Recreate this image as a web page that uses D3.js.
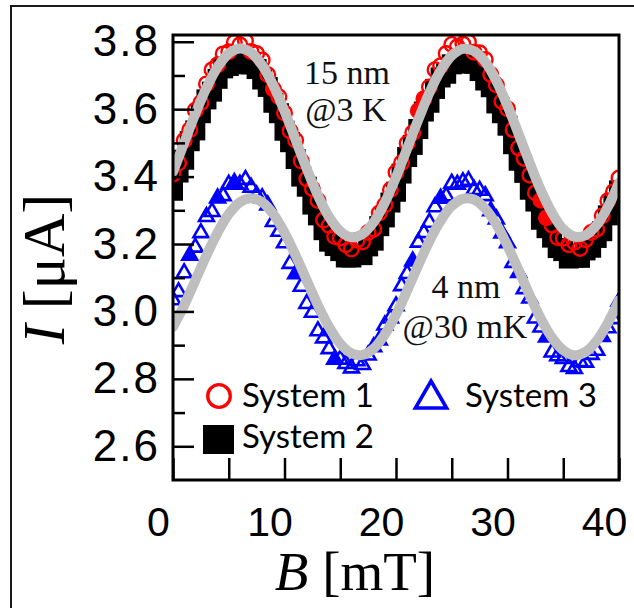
<!DOCTYPE html>
<html>
<head>
<meta charset="utf-8">
<script src="https://cdn.jsdelivr.net/npm/d3@7"></script>
<style>
  body { margin: 0; background: #fff; }
  svg { display: block; }
</style>
</head>
<body>
<svg id="chart" width="634" height="608"></svg>
<script>
// Magnetic field sweep (mT) shared by the three measured systems
const fieldB = [
  0, 0.5, 1, 1.5, 2, 2.5, 3, 3.5, 4, 4.5, 5, 5.5, 6, 6.5, 7, 7.5, 8, 8.5, 9, 9.5,
  10, 10.5, 11, 11.5, 12, 12.5, 13, 13.5, 14, 14.5, 15, 15.5, 16, 16.5, 17, 17.5, 18, 18.5, 19, 19.5,
  20, 20.5, 21, 21.5, 22, 22.5, 23, 23.5, 24, 24.5, 25, 25.5, 26, 26.5, 27, 27.5, 28, 28.5, 29, 29.5,
  30, 30.5, 31, 31.5, 32, 32.5, 33, 33.5, 34, 34.5, 35, 35.5, 36, 36.5, 37, 37.5, 38, 38.5, 39, 39.5,
  40
];

// System 1: 15 nm junction at 3 K (µA)
const system1 = [
  3.407, 3.440, 3.507, 3.539, 3.597, 3.619, 3.675, 3.717, 3.732, 3.764,
  3.770, 3.798, 3.791, 3.802, 3.771, 3.765, 3.746, 3.702, 3.660, 3.637,
  3.589, 3.535, 3.508, 3.446, 3.393, 3.364, 3.329, 3.271, 3.255, 3.222,
  3.218, 3.198, 3.185, 3.211, 3.206, 3.234, 3.244, 3.292, 3.316, 3.361,
  3.413, 3.441, 3.499, 3.530, 3.595, 3.631, 3.666, 3.717, 3.729, 3.765,
  3.792, 3.785, 3.793, 3.799, 3.769, 3.767, 3.747, 3.703, 3.672, 3.623,
  3.601, 3.539, 3.485, 3.454, 3.404, 3.352, 3.330, 3.278, 3.256, 3.219,
  3.217, 3.198, 3.205, 3.187, 3.213, 3.234, 3.244, 3.284, 3.328, 3.355,
  3.396
];
// Sweep points of System 1 drawn as solid circles
const system1Solid = [9, 22, 22.5, 33, 33.5];

// System 2: 15 nm junction at 3 K (µA)
const system2 = [
  3.358, 3.412, 3.450, 3.505, 3.537, 3.588, 3.629, 3.652, 3.690, 3.721,
  3.728, 3.736, 3.749, 3.733, 3.733, 3.719, 3.688, 3.666, 3.619, 3.588,
  3.536, 3.502, 3.452, 3.400, 3.370, 3.317, 3.285, 3.241, 3.207, 3.194,
  3.179, 3.160, 3.160, 3.170, 3.167, 3.193, 3.210, 3.253, 3.279, 3.323,
  3.355, 3.409, 3.458, 3.494, 3.541, 3.593, 3.619, 3.660, 3.694, 3.705,
  3.733, 3.738, 3.752, 3.735, 3.735, 3.713, 3.685, 3.665, 3.617, 3.588,
  3.551, 3.496, 3.447, 3.411, 3.361, 3.326, 3.272, 3.247, 3.219, 3.188,
  3.179, 3.157, 3.160, 3.159, 3.181, 3.189, 3.218, 3.238, 3.285, 3.319,
  3.359
];

// System 3: 4 nm junction at 30 mK (µA)
const system3 = [
  3.034, 3.058, 3.114, 3.166, 3.190, 3.233, 3.281, 3.296, 3.336, 3.343,
  3.377, 3.382, 3.377, 3.391, 3.368, 3.345, 3.337, 3.315, 3.266, 3.237,
  3.203, 3.142, 3.111, 3.074, 3.023, 2.997, 2.942, 2.921, 2.889, 2.858,
  2.858, 2.845, 2.832, 2.853, 2.842, 2.870, 2.895, 2.915, 2.959, 2.980,
  3.016, 3.076, 3.112, 3.149, 3.205, 3.233, 3.264, 3.310, 3.335, 3.342,
  3.380, 3.377, 3.384, 3.388, 3.361, 3.359, 3.343, 3.298, 3.274, 3.232,
  3.203, 3.145, 3.115, 3.067, 3.039, 2.980, 2.953, 2.924, 2.879, 2.868,
  2.860, 2.836, 2.830, 2.851, 2.849, 2.872, 2.884, 2.925, 2.951, 2.978,
  3.030
];
const system3Solid = [1.5, 4, 5.5, 8.5, 11, 14.5, 21.5, 24, 28.5, 31, 33.5, 38.5];

// Fitted oscillation curves, sampled every 1 mT
const fitB = [
  0, 1, 2, 3, 4, 5, 6, 7, 8, 9, 10, 11, 12, 13, 14, 15, 16, 17, 18, 19, 20,
  21, 22, 23, 24, 25, 26, 27, 28, 29, 30, 31, 32, 33, 34, 35, 36, 37, 38, 39, 40
];
const fit15nm = [
  3.414, 3.500, 3.586, 3.663, 3.725, 3.765, 3.780, 3.768, 3.730, 3.670,
  3.594, 3.509, 3.423, 3.344, 3.280, 3.238, 3.220, 3.230, 3.265, 3.323,
  3.398, 3.483, 3.569, 3.649, 3.714, 3.759, 3.779, 3.772, 3.740, 3.684,
  3.610, 3.526, 3.440, 3.359, 3.292, 3.244, 3.222, 3.226, 3.256, 3.310,
  3.382
];
const fit4nm = [
  2.954, 3.018, 3.092, 3.166, 3.234, 3.289, 3.324, 3.336, 3.324, 3.289,
  3.234, 3.166, 3.092, 3.018, 2.954, 2.904, 2.876, 2.871, 2.890, 2.932,
  2.991, 3.062, 3.137, 3.209, 3.269, 3.313, 3.334, 3.332, 3.305, 3.258,
  3.195, 3.122, 3.047, 2.978, 2.922, 2.885, 2.870, 2.880, 2.913, 2.966,
  3.033
];

// Axis ticks
const xTicks = [0, 5, 10, 15, 20, 25, 30, 35, 40];
const xTickLabels = [0, 10, 20, 30, 40];
const yMajor = [2.6, 2.8, 3.0, 3.2, 3.4, 3.6, 3.8];
const yMinor = [2.7, 2.9, 3.1, 3.3, 3.5, 3.7];

// Legend entries
const legendLabels = ["System 1", "System 2", "System 3"];

const W = 634, H = 608;
const plot = { left: 173, right: 619, top: 35, bottom: 480 };

const x = d3.scaleLinear().domain([0, 40]).range([plot.left, plot.right]);
const y = d3.scaleLinear().domain([2.5, 3.82]).range([plot.bottom, plot.top]);

const svg = d3.select("#chart");
svg.append("rect").attr("width", W).attr("height", H).attr("fill", "#fff");

// outer panel frame
svg.append("path")
  .attr("d", "M11,608V6H634")
  .attr("fill", "none")
  .attr("stroke", "#1a1a1a")
  .attr("stroke-width", 2);

svg.append("defs").append("clipPath").attr("id", "plotClip")
  .append("rect")
  .attr("x", plot.left).attr("y", plot.top)
  .attr("width", plot.right - plot.left).attr("height", plot.bottom - plot.top);

const data = svg.append("g").attr("clip-path", "url(#plotClip)");

// System 2: filled squares
data.append("g").selectAll("rect")
  .data(d3.zip(fieldB, system2))
  .join("rect")
  .attr("x", d => x(d[0]) - 10)
  .attr("y", d => y(d[1]) - 10)
  .attr("width", 20).attr("height", 20)
  .attr("fill", "#000");

// System 1: open circles
data.append("g").selectAll("circle")
  .data(d3.zip(fieldB, system1))
  .join("circle")
  .attr("cx", d => x(d[0]))
  .attr("cy", d => y(d[1]))
  .attr("r", 7.3)
  .attr("fill", d => system1Solid.includes(d[0]) ? "#ff0000" : "none")
  .attr("stroke", "#ff0000")
  .attr("stroke-width", 2.4);

// System 3: open triangles
const tri = d3.symbol().type(d3.symbolTriangle).size(95);
data.append("g").selectAll("path")
  .data(d3.zip(fieldB, system3))
  .join("path")
  .attr("d", tri)
  .attr("transform", d => `translate(${x(d[0])},${y(d[1])})`)
  .attr("fill", d => system3Solid.includes(d[0]) ? "#0000ff" : "none")
  .attr("stroke", "#0000ff")
  .attr("stroke-width", 2.6)
  .attr("stroke-linejoin", "miter");

// Fit curves
const fitLine = d3.line()
  .x((d, i) => x(fitB[i]))
  .y(d => y(d))
  .curve(d3.curveCatmullRom);
[fit15nm, fit4nm].forEach(series => {
  data.append("path")
    .attr("d", fitLine(series))
    .attr("fill", "none")
    .attr("stroke", "#bebebe")
    .attr("stroke-width", 10)
    .attr("stroke-linecap", "round");
});

// Plot frame
svg.append("rect")
  .attr("x", plot.left).attr("y", plot.top)
  .attr("width", plot.right - plot.left).attr("height", plot.bottom - plot.top)
  .attr("fill", "none")
  .attr("stroke", "#000")
  .attr("stroke-width", 3);

const tickFont = "'Liberation Sans', Arial, sans-serif";

// Bottom axis: inward ticks
const gxTicks = svg.append("g")
  .attr("transform", `translate(0,${plot.bottom})`)
  .call(d3.axisBottom(x).tickValues(xTicks).tickSize(-22).tickFormat(""));
gxTicks.select(".domain").remove();
gxTicks.selectAll(".tick line").attr("stroke", "#000").attr("stroke-width", 2.5);

// Bottom axis labels
const gxLab = svg.append("g")
  .attr("transform", `translate(-15,${plot.bottom})`)
  .call(d3.axisBottom(x).tickValues(xTickLabels).tickSize(0).tickPadding(27).tickFormat(d3.format("d")));
gxLab.select(".domain").remove();
gxLab.selectAll("text")
  .attr("fill", "#000")
  .style("font-family", tickFont)
  .style("font-size", "41px");

// Left axis: major ticks with labels, minor ticks
const gyMajor = svg.append("g")
  .attr("transform", `translate(${plot.left},0)`)
  .call(d3.axisLeft(y).tickValues(yMajor).tickSize(-21).tickPadding(13).tickFormat(d3.format(".1f")));
gyMajor.select(".domain").remove();
gyMajor.selectAll(".tick line").attr("stroke", "#000").attr("stroke-width", 2.5);
gyMajor.selectAll("text")
  .attr("fill", "#000")
  .style("font-family", tickFont)
  .style("font-size", "44px")
  .style("letter-spacing", "2px");

const gyMinor = svg.append("g")
  .attr("transform", `translate(${plot.left},0)`)
  .call(d3.axisLeft(y).tickValues(yMinor).tickSize(-12).tickFormat(""));
gyMinor.select(".domain").remove();
gyMinor.selectAll(".tick line").attr("stroke", "#000").attr("stroke-width", 2.5);

// Axis titles
const serif = "'Liberation Serif', 'Times New Roman', serif";
const xTitle = svg.append("text")
  .attr("x", 355).attr("y", 590)
  .attr("text-anchor", "middle")
  .style("font-family", serif)
  .style("font-size", "55px");
xTitle.append("tspan").style("font-style", "italic").text("B");
xTitle.append("tspan").text(" [mT]");

const yTitle = svg.append("text")
  .attr("transform", "translate(64,269) rotate(-90)")
  .attr("text-anchor", "middle")
  .style("font-family", serif)
  .style("font-size", "60px");
yTitle.append("tspan").style("font-style", "italic").text("I");
yTitle.append("tspan").text(" [μA]");

// Sample annotations
const notes = [
  { t: "15 nm", x: 347, y: 84 },
  { t: "@3 K", x: 346, y: 121 },
  { t: "4 nm", x: 466, y: 298 },
  { t: "@30 mK", x: 465, y: 338 }
];
svg.append("g").selectAll("text")
  .data(notes)
  .join("text")
  .attr("x", d => d.x).attr("y", d => d.y)
  .attr("text-anchor", "middle")
  .style("font-family", serif)
  .style("font-size", "34px")
  .attr("fill", "#111")
  .text(d => d.t);

// Legend
const legFont = "Lato, 'Open Sans', sans-serif";
const leg = svg.append("g");
leg.append("circle")
  .attr("cx", 219).attr("cy", 396).attr("r", 11.3)
  .attr("fill", "none").attr("stroke", "#ff0000").attr("stroke-width", 3.3);
leg.append("rect")
  .attr("x", 203).attr("y", 425).attr("width", 31).attr("height", 29)
  .attr("fill", "#000");
leg.append("path")
  .attr("d", d3.symbol().type(d3.symbolTriangle).size(420)())
  .attr("transform", "translate(431,399)")
  .attr("fill", "none").attr("stroke", "#0000ff").attr("stroke-width", 3.6);
const legPos = [[242, 407], [242, 448], [465, 407]];
leg.selectAll("text.leg")
  .data(legendLabels)
  .join("text")
  .attr("class", "leg")
  .attr("x", (d, i) => legPos[i][0])
  .attr("y", (d, i) => legPos[i][1])
  .style("font-family", legFont)
  .style("font-size", "33px")
  .attr("fill", "#000")
  .text(d => d);
</script>
</body>
</html>
